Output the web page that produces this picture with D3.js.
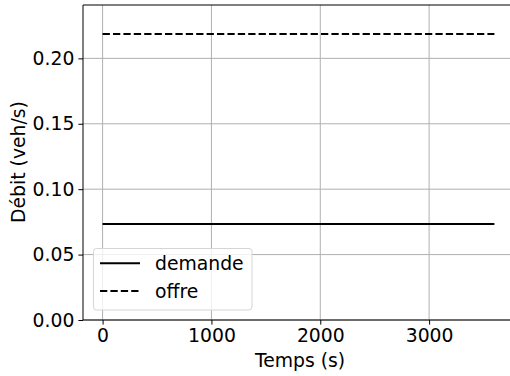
<!DOCTYPE html>
<html>
<head>
<meta charset="utf-8">
<script src="https://cdn.jsdelivr.net/npm/d3@7"></script>
<style>
  body { margin: 0; background: #fff; }
  svg { display: block; font-family: "DejaVu Sans", sans-serif; }
</style>
</head>
<body>
<svg width="510" height="376"></svg>
<script>
// Series: constant demand and supply over time
const times = [0, 3600];
const demande = [0.0734, 0.0734];
const offre = [0.2187, 0.2187];
const xTicks = [0, 1000, 2000, 3000];
const yTicks = [0.00, 0.05, 0.10, 0.15, 0.20];

const svg = d3.select("svg");
const plotLeft = 83, plotTop = 5, plotBottom = 320, plotRight = 514;
const fs = "18.8px";

const x = d3.scaleLinear().domain([-180, 3780]).range([plotLeft, plotRight]);
const y = d3.scaleLinear().domain([0, 0.2408]).range([plotBottom, plotTop]);

// Grid
const grid = svg.append("g");
grid.selectAll(".gx").data(xTicks).enter().append("line")
  .attr("x1", d => x(d)).attr("x2", d => x(d))
  .attr("y1", plotTop).attr("y2", plotBottom)
  .attr("stroke", "#b0b0b0").attr("stroke-width", 1);
grid.selectAll(".gy").data(yTicks).enter().append("line")
  .attr("x1", plotLeft).attr("x2", plotRight)
  .attr("y1", d => y(d)).attr("y2", d => y(d))
  .attr("stroke", "#b0b0b0").attr("stroke-width", 1);

// Lines
const line = d3.line().x(d => x(d[0])).y(d => y(d[1]));
svg.append("path")
  .datum(times.map((t, i) => [t, demande[i]]))
  .attr("fill", "none").attr("stroke", "#000").attr("stroke-width", 2)
  .attr("d", line);
svg.append("path")
  .datum(times.map((t, i) => [t, offre[i]]))
  .attr("fill", "none").attr("stroke", "#000").attr("stroke-width", 2)
  .attr("stroke-dasharray", "7.3,3.1")
  .attr("d", line);

// Axes
const xAxis = svg.append("g").attr("transform", `translate(0,${plotBottom})`)
  .call(d3.axisBottom(x).tickValues(xTicks).tickFormat(d3.format("d")).tickSizeOuter(0).tickSize(4.6).tickPadding(4));
const yAxis = svg.append("g").attr("transform", `translate(${plotLeft},0)`)
  .call(d3.axisLeft(y).tickValues(yTicks).tickFormat(d3.format(".2f")).tickSizeOuter(0).tickSize(4.6).tickPadding(4));
[xAxis, yAxis].forEach(a => {
  a.select(".domain").remove();
  a.selectAll("text").attr("font-size", fs).attr("font-family", "DejaVu Sans").attr("fill", "#000");
  a.selectAll("line").attr("stroke", "#000").attr("stroke-width", 1);
});

// Spines
svg.append("line").attr("x1", plotLeft).attr("x2", plotLeft).attr("y1", plotTop).attr("y2", plotBottom)
  .attr("stroke", "#000").attr("stroke-width", 1);
svg.append("line").attr("x1", plotLeft).attr("x2", plotRight).attr("y1", plotBottom).attr("y2", plotBottom)
  .attr("stroke", "#000").attr("stroke-width", 1);
svg.append("line").attr("x1", plotLeft).attr("x2", plotRight).attr("y1", plotTop).attr("y2", plotTop)
  .attr("stroke", "#000").attr("stroke-width", 1);

// Axis labels
svg.append("text").attr("x", 300).attr("y", 366.5)
  .attr("text-anchor", "middle").attr("font-size", fs).text("Temps (s)");
svg.append("text").attr("transform", `translate(25,162) rotate(-90)`)
  .attr("text-anchor", "middle").attr("font-size", fs).text("Débit (veh/s)");

// Legend
const legend = svg.append("g");
legend.append("rect").attr("x", 93.5).attr("y", 248.5).attr("width", 158.5).attr("height", 61.5)
  .attr("rx", 3).attr("fill", "#fff").attr("fill-opacity", 0.8)
  .attr("stroke", "#d5d5d5").attr("stroke-width", 1);
const items = [{ label: "demande", dash: null }, { label: "offre", dash: "7.3,3.1" }];
items.forEach((it, i) => {
  const cy = 263.3 + i * 27.7;
  legend.append("line").attr("x1", 100).attr("x2", 140).attr("y1", cy).attr("y2", cy)
    .attr("stroke", "#000").attr("stroke-width", 2)
    .attr("stroke-dasharray", it.dash);
  legend.append("text").attr("x", 155).attr("y", cy + 6.5)
    .attr("font-size", fs).text(it.label);
});
</script>
</body>
</html>
